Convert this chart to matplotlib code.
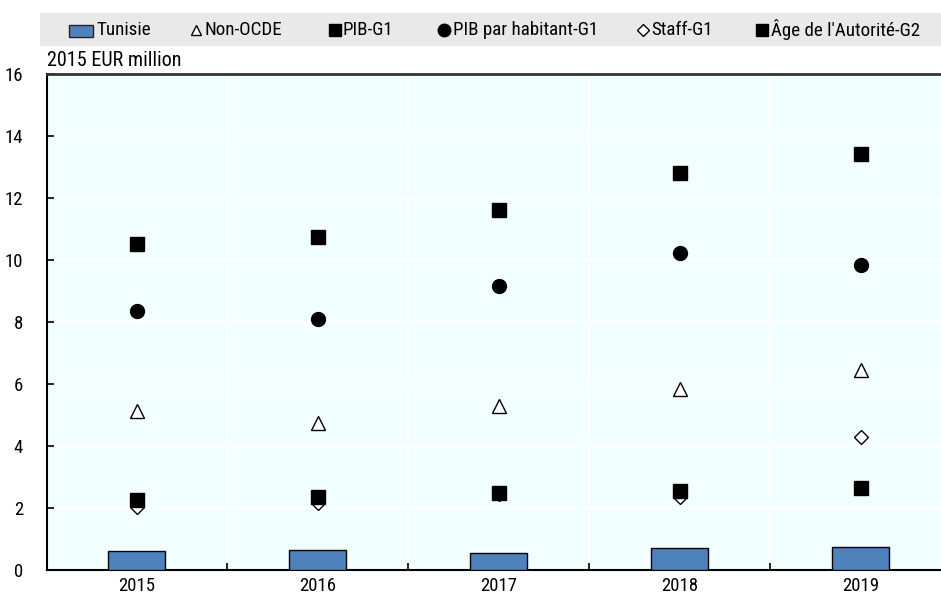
import matplotlib
matplotlib.use("Agg")
import matplotlib.pyplot as plt
from matplotlib.patches import Rectangle
from matplotlib.lines import Line2D
import numpy as np

plt.rcParams['font.family'] = ['Liberation Sans Narrow', 'Roboto Condensed', 'DejaVu Sans']

years = ["2015", "2016", "2017", "2018", "2019"]
tunisie = [0.60, 0.65, 0.54, 0.72, 0.75]
non_ocde = [5.13, 4.74, 5.29, 5.84, 6.45]
pib_g1 = [10.52, 10.74, 11.61, 12.81, 13.42]
pib_hab_g1 = [8.35, 8.10, 9.16, 10.23, 9.84]
staff_g1 = [2.03, 2.16, 2.45, 2.35, 4.29]
age_g2 = [2.26, 2.36, 2.49, 2.56, 2.65]

W, H = 941, 596
FS_LEG = 13.7
FS_TICK = 13.5
FS_UNIT = 14.5
fig = plt.figure(figsize=(W / 100, H / 100), dpi=100)

def fx(px):
    return px / W

def fy(py):
    return 1 - py / H

ax = fig.add_axes([fx(46.5), fy(570), fx(941 - 46.5), (570 - 74) / H])
ax.set_facecolor("#F2FFFF")

x = np.arange(len(years))
bar_blue = "#4F81BD"
ax.bar(x, tunisie, width=0.315, color=bar_blue, edgecolor="black", linewidth=1.0, zorder=3)

ms = 10
ax.plot(x, non_ocde, linestyle="none", marker="^", markersize=ms, markerfacecolor="white",
        markeredgecolor="black", markeredgewidth=1.0, zorder=4)
ax.plot(x, staff_g1, linestyle="none", marker="D", markersize=7, markerfacecolor="white",
        markeredgecolor="black", markeredgewidth=1.0, zorder=4)
ax.plot(x, pib_hab_g1, linestyle="none", marker="o", markersize=ms, markerfacecolor="black",
        markeredgecolor="black", zorder=5)
ax.plot(x, pib_g1, linestyle="none", marker="s", markersize=ms, markerfacecolor="black",
        markeredgecolor="black", zorder=5)
ax.plot(x, age_g2, linestyle="none", marker="s", markersize=ms, markerfacecolor="black",
        markeredgecolor="black", zorder=5)

ax.set_xlim(-0.5, 4.445)
ax.set_ylim(0, 16)
ax.set_yticks(np.arange(0, 17, 2))
ax.set_yticklabels([str(v) for v in range(0, 17, 2)])

# category labels at centres, tick marks at boundaries
ax.set_xticks(x)
ax.set_xticklabels(years)
ax.set_xticks(np.arange(0.5, 4.0, 1.0), minor=True)
ax.tick_params(axis="x", which="major", length=0, pad=5, labelsize=FS_TICK)
ax.tick_params(axis="x", which="minor", direction="in", length=5, width=1.2, color="black")
ax.tick_params(axis="y", direction="in", length=5, width=1.2, pad=17, labelsize=FS_TICK)

ax.grid(True, axis="y", color="white", linewidth=1.5, zorder=0)
ax.grid(True, axis="x", which="minor", color="white", linewidth=1.5, zorder=0)
ax.set_axisbelow(True)

for side in ["left", "bottom"]:
    ax.spines[side].set_color("black")
    ax.spines[side].set_linewidth(1.5)
ax.spines["top"].set_color("#333333")
ax.spines["top"].set_linewidth(2.0)
ax.spines["right"].set_visible(False)

fig.text(fx(47), fy(60), "2015 EUR million", fontsize=FS_UNIT, ha="left", va="center")

# legend band
fig.patches.append(Rectangle((fx(40), fy(46)), fx(941 - 40), (46 - 13) / H,
                             transform=fig.transFigure, facecolor="#E9E9E9",
                             edgecolor="none", zorder=0))
ly = fy(30)
fig.patches.append(Rectangle((fx(69), fy(37)), fx(24), 12 / H, transform=fig.transFigure,
                             facecolor=bar_blue, edgecolor="#222222", linewidth=1.0, zorder=2))
fig.text(fx(96), ly, "Tunisie", fontsize=FS_LEG, ha="left", va="center")

legend_items = [
    (196, 205, "^", 7.5, "white", "Non-OCDE"),
    (335, 343, "s", 9, "black", "PIB-G1"),
    (443.5, 453, "o", 9, "black", "PIB par habitant-G1"),
    (643, 651, "D", 6, "white", "Staff-G1"),
    (762, 771, "s", 9, "black", "Âge de l'Autorité-G2"),
]
for mx, tx, mk, msz, fc, label in legend_items:
    fig.lines.append(Line2D([fx(mx)], [ly], transform=fig.transFigure, marker=mk,
                            markersize=msz, markerfacecolor=fc, markeredgecolor="black",
                            markeredgewidth=1.0, linestyle="none"))
    fig.text(fx(tx), ly, label, fontsize=FS_LEG, ha="left", va="center")

fig.savefig("out.png", dpi=100)
